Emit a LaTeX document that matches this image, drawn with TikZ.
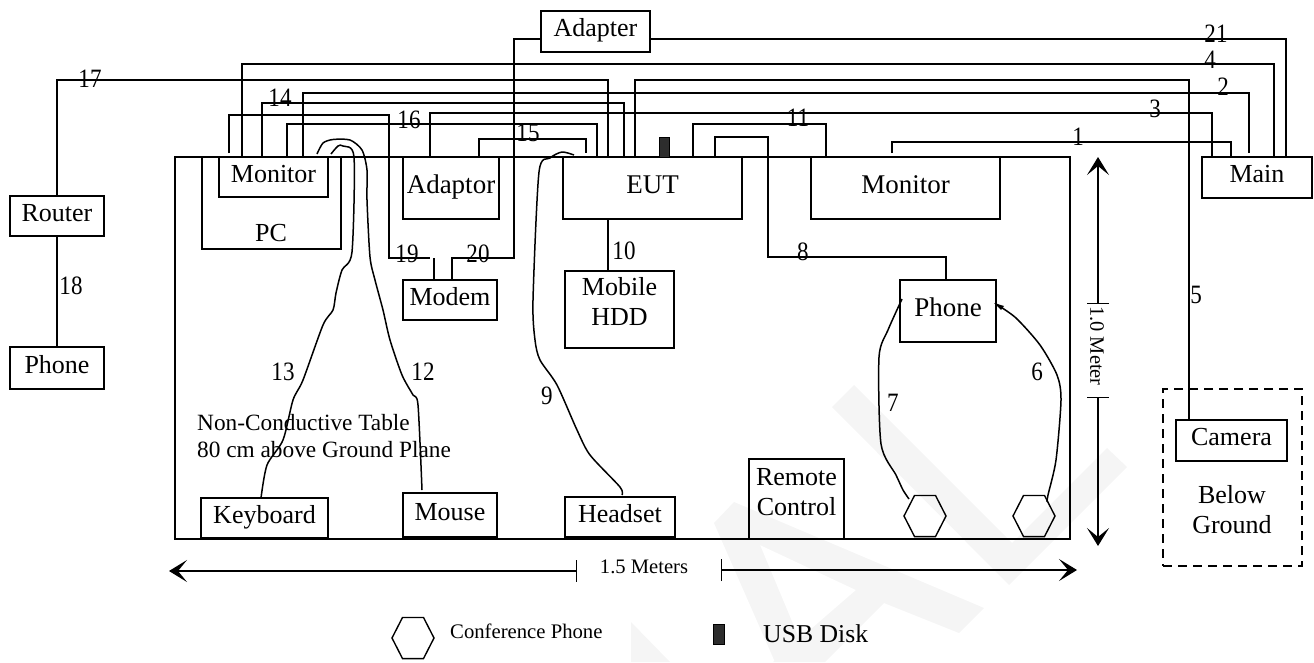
\documentclass[tikz,border=0pt]{standalone}
\usepackage{fontspec}
\setmainfont{Liberation Serif}
\usepackage{tikz}
\usetikzlibrary{arrows.meta,shapes.geometric}
\definecolor{mMark}{RGB}{245,245,245}
\definecolor{mDisk}{RGB}{45,45,45}
\tikzset{
  block/.style={draw, line width=1.6pt, inner sep=0pt, outer sep=0pt, align=center, font=\fontsize{26}{30}\selectfont},
  unit/.style={block, text height=17pt, text depth=7pt},
  wide/.style={font=\fontsize{27}{30}\selectfont},
  num/.style={inner sep=0pt, font=\fontsize{26.5}{29}\selectfont, xscale=.87, transform shape},
  cable/.style={line width=1.6pt},
  wire/.style={line width=1.5pt, line join=round},
  hexphone/.style={draw, line width=1.4pt, regular polygon, regular polygon sides=6, minimum size=42, inner sep=0pt, yscale=1.13, transform shape},
  usbdisk/.style={fill=mDisk, draw=black, line width=.5pt, inner sep=0pt, minimum width=10, minimum height=20},
  span/.style={line width=1.4pt, {Bar[width=22pt]}-{Stealth[length=18pt,width=22pt,inset=9pt]}}
}

\begin{document}
\begin{tikzpicture}[x=1pt, y=-1pt]
    \useasboundingbox (0,0) rectangle (1314,662);

    \fill[mMark] (854,385) -- (1012,543) -- (1107,448) -- (1127,467) -- (1009,585) -- (832,407) -- cycle;
    \fill[mMark] (734,502) -- (984,608) -- (959,633) -- (884,603) -- (825,662) -- (773,662) -- (856,590) -- (760,545) -- (809,662) -- (775,662) -- (714,523) -- cycle;
    \fill[mMark] (631,622) -- (670,662) -- (631,662) -- cycle;

    \node[block, minimum width=895, minimum height=382] (tablebox) at (622.5,348) {};
    \node[block, minimum width=139, minimum height=92] (pc) at (271.5,203) {};
    \node[inner sep=0pt, font=\fontsize{26}{30}\selectfont] (pclabel) at (271,233) {PC};
    \node[unit, minimum width=109, minimum height=40] (monleft) at (273.5,177) {Monitor};
    \node[unit, wide, minimum width=96, minimum height=62] (adaptor) at (451,188) {Adaptor};
    \node[unit, wide, minimum width=179, minimum height=62] (eut) at (652.5,188) {EUT};
    \node[unit, wide, minimum width=189, minimum height=62] (monright) at (905.5,188) {Monitor};
    \node[unit, minimum width=110, minimum height=41] (main) at (1257,177.5) {Main};
    \node[unit, minimum width=109, minimum height=41] (adapter) at (595.5,31.5) {Adapter};
    \node[unit, minimum width=94, minimum height=40] (router) at (57,216) {Router};
    \node[unit, minimum width=94, minimum height=42] (phoneb) at (57,368) {Phone};
    \node[unit, minimum width=94, minimum height=40] (modem) at (450,300) {Modem};
    \node[block, text depth=16pt, minimum width=109, minimum height=77] (hdd) at (619.5,309.5) {Mobile\\HDD};
    \node[unit, wide, minimum width=96, minimum height=62] (phone) at (948,311) {Phone};
    \node[unit, minimum width=127, minimum height=40] (keyboard) at (264.5,518) {Keyboard};
    \node[unit, minimum width=94, minimum height=44] (mouse) at (450,515) {Mouse};
    \node[unit, minimum width=110, minimum height=40] (headset) at (620,517) {Headset};
    \node[block, text depth=14pt, minimum width=95, minimum height=80] (remote) at (796.5,499) {Remote\\Control};
    \node[unit, minimum width=111, minimum height=41] (camera) at (1231.5,440.5) {Camera};
    \node[block, dash pattern=on 9pt off 6pt, minimum width=139, minimum height=177] (ground) at (1232.5,477.5) {};
    \node[inner sep=0pt, align=center, font=\fontsize{26}{30}\selectfont] (groundlabel) at (1232,510) {Below\\Ground};
    \node[usbdisk] (usbtop) at (664.5,147) {};
    \node[hexphone] (hexa) at (925,516) {};
    \node[hexphone] (hexb) at (1034,516) {};
    \node[hexphone] (hexkey) at (413,638) {};
    \node[usbdisk, minimum width=11] (usbkey) at (718.5,634) {};

    \coordinate (stub2) at (1249,153);
    \coordinate (stub15) at (586,153);
    \coordinate (stub1) at (892,153);
    \coordinate (stub19) at (229,153);
    \coordinate (end19) at (430,258);

    \draw[cable] (main.north -| 1286,0) |- (adapter.east |- 0,39);
    \draw[cable] (adapter.west |- 0,39) -| (514,258) -| (modem.north -| 452,0);
    \draw[cable] (monleft.north -| 242,0) |- (1274,64) -- (main.north -| 1274,0);
    \draw[cable] (router.north) |- (608,80) -- (eut.north -| 608,0);
    \draw[cable] (router.south) -- (phoneb.north);
    \draw[cable] (eut.north -| 635,0) |- (1189,80) -- (camera.north -| 1189,0);
    \draw[cable] (monleft.north -| 303,0) |- (1249,93) -- (stub2);
    \draw[cable] (monleft.north -| 262,0) |- (624,103) -- (eut.north -| 624,0);
    \draw[cable] (adaptor.north -| 430,0) |- (1212,113) -- (main.north -| 1212,0);
    \draw[cable] (stub19) |- (389,115) -- (389,258) -- (end19);
    \draw[cable] (434,258) -- (modem.north -| 434,0);
    \draw[cable] (monleft.north -| 287,0) |- (597,124) -- (eut.north -| 597,0);
    \draw[cable] (adaptor.north -| 479,0) |- (586,139) -- (stub15);
    \draw[cable] (eut.north -| 693,0) |- (826,124) -- (monright.north -| 826,0);
    \draw[cable] (eut.north -| 715,0) |- (768,137) -- (768,257) -| (phone.north -| 946,0);
    \draw[cable] (stub1) |- (1231,142) -- (main.north -| 1231,0);
    \draw[cable] (eut.south -| 608,0) -- (hdd.north -| 608,0);

    \draw[wire] plot[smooth, tension=.45] coordinates {(317,154) (323,143) (333,139.5) (350,140) (362,150) (367,170) (367,200) (370,257) (375,280) (383,310) (390,340) (402,375) (413,395) (418,405) (422,490)};
    \draw[wire] plot[smooth, tension=.45] coordinates {(331,154) (338,146) (343,146) (354,157) (352,252) (342,270) (336,293) (333,310) (323,325) (303,380) (293,400) (283,440) (267,465) (261,498)};
    \draw[wire] plot[smooth, tension=.45] coordinates {(574,155) (562,152) (550,158) (539,172) (533,300) (535,340) (540,360) (557,385) (577,430) (590,455) (620,487) (622,495)};
    \draw[wire] plot[smooth, tension=.45] coordinates {(902,299) (888,330) (879,357) (881,444) (896,475) (903,490) (909,499)};
    \draw[wire] plot[smooth, tension=.45] coordinates {(1047,502) (1048,495) (1056,460) (1061,400) (1057,375) (1040,345) (1016,318) (996,304)};
    \fill (994,303) -- (1004,306) -- (1001,310) -- cycle;

    \draw[span] (1098,304) -- (1098,157);
    \draw[span] (1098,397) -- (1098,546);
    \draw[span] (577,571) -- (169,571);
    \draw[span] (721,570) -- (1077,570);
    \node[rotate=-90, inner sep=0pt, font=\fontsize{20.4}{22}\selectfont] (meterv) at (1097,346) {1.0 Meter};
    \node[inner sep=0pt, font=\fontsize{20.6}{22}\selectfont] (meterh) at (644,567) {1.5 Meters};

    \node[num] (n21) at (1216,34) {21};
    \node[num] (n4) at (1210,60) {4};
    \node[num] (n2) at (1223,87) {2};
    \node[num] (n3) at (1155,109) {3};
    \node[num] (n1) at (1078,137) {1};
    \node[num] (n11) at (798,118) {11};
    \node[num] (n14) at (280,98) {14};
    \node[num] (n16) at (409,120) {16};
    \node[num] (n15) at (528,133) {15};
    \node[num] (n19) at (407,254) {19};
    \node[num] (n20) at (478,254) {20};
    \node[num] (n17) at (90,79) {17};
    \node[num] (n18) at (71,286) {18};
    \node[num] (n13) at (283,372) {13};
    \node[num] (n12) at (423,372) {12};
    \node[num] (n9) at (547,396) {9};
    \node[num] (n10) at (624,251) {10};
    \node[num] (n8) at (803,252) {8};
    \node[num] (n5) at (1196,295) {5};
    \node[num] (n6) at (1037,372) {6};
    \node[num] (n7) at (893,403) {7};

    \node[anchor=west, inner sep=0pt, align=left, font=\fontsize{23.3}{27}\selectfont] (tablenote) at (197,436) {Non-Conductive Table\\80 cm above Ground Plane};
    \node[anchor=west, inner sep=0pt, font=\fontsize{20.7}{22}\selectfont] (hexnote) at (450,631) {Conference Phone};
    \node[anchor=west, inner sep=0pt, font=\fontsize{25.7}{28}\selectfont] (usbnote) at (763,634) {USB Disk};
\end{tikzpicture}
\end{document}
